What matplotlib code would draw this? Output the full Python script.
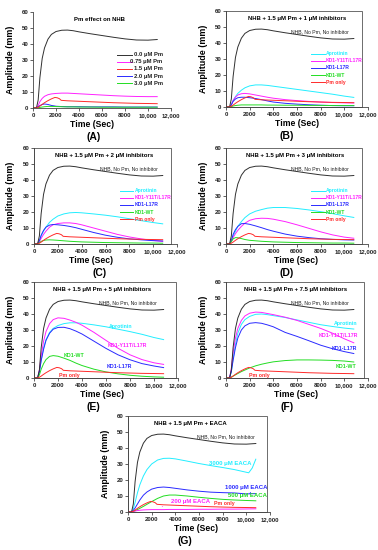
import matplotlib
matplotlib.use("Agg")
import matplotlib.pyplot as plt
from matplotlib.patches import Rectangle
from matplotlib.ticker import FuncFormatter, MultipleLocator

plt.rcParams["font.family"] = ["Liberation Sans", "DejaVu Sans"]

# ---- data (time in s, amplitude in mm) ----
T = [0, 300, 450, 600, 800, 1000, 1300, 1600, 2000, 2500, 3000, 3500, 4000,
     5000, 6000, 7000, 8000, 9000, 10000, 10800]
T_PM = [0, 300, 450, 600, 800, 1000, 1300, 1600, 1900, 2100, 2300, 2450, 3000,
        4000, 5000, 6000, 7000, 8000, 9000, 10000, 10800]
T_EACA = [0, 300, 450, 600, 800, 1000, 1300, 1600, 2000, 2500, 3000, 3500, 4000,
          5000, 6000, 7000, 8000, 9000, 9600, 10200, 10500, 10800]

nhb = [0, 0, 5, 19, 31, 37.5, 43, 46, 47.8, 48.6, 48.7, 48.3, 47.6,
       46.4, 45.3, 44.2, 43.2, 42.5, 42.4, 42.8]
pm_only = [0, 0, 0.5, 1.2, 2.3, 3.3, 4.6, 5.7, 6.6, 6.4, 5.8, 4.8, 4.5,
           4.2, 3.9, 3.6, 3.3, 3.1, 2.9, 2.8, 2.7]

# (A) Pm dose
pm_075 = [0, 0, 1.5, 4, 6, 7.3, 8.3, 8.8, 9.1, 9.3, 9.3, 9.1, 8.9,
          8.5, 8.1, 7.7, 7.4, 7.2, 7.1, 7.1]
pm_20 = [0, 0, 0.8, 1.5, 2.2, 2.5, 2.2, 1.6, 1.1, 0.9, 0.8, 0.8, 0.8,
         0.7, 0.7, 0.7, 0.6, 0.6, 0.6, 0.6]
pm_30 = [0, 0, 0.2, 0.4, 0.6, 0.8, 1.0, 1.0, 0.9, 0.8, 0.7, 0.7, 0.6,
         0.6, 0.5, 0.5, 0.5, 0.5, 0.5, 0.5]

# (B) 1 uM inhibitors
apro_1 = [0, 0, 1.5, 4, 6.5, 8.5, 10.5, 12, 13.2, 13.8, 13.8, 13.5, 13,
          12, 11, 10, 9, 8, 6.8, 6]
y11_1 = [0, 0, 1.5, 4, 6.2, 7.5, 8.3, 8.5, 8.2, 7.5, 6.8, 6.1, 5.5,
         4.6, 4, 3.5, 3.1, 2.8, 2.6, 2.5]
l17_1 = [0, 0, 1.3, 3.5, 5, 5.8, 6.1, 6.1, 5.8, 5.3, 4.6, 3.8, 3.1,
         2.3, 1.8, 1.4, 1.1, 0.9, 0.8, 0.8]
wt_1 = [0, 0, 0.3, 0.6, 0.9, 1.1, 1.3, 1.3, 1.3, 1.3, 1.3, 1.2, 1.2,
        1.1, 1.1, 1.0, 1.0, 0.9, 0.9, 0.9]

# (C) 2 uM inhibitors
apro_2 = [0, 0, 2, 5, 8, 10.5, 13.5, 15.5, 17.5, 18.8, 19.5, 19.7, 19.5,
          18.8, 18, 17, 15.8, 14.6, 13.4, 12.6]
y11_2 = [0, 0, 1.5, 3.5, 6, 8, 10.5, 12, 12.8, 13.2, 13.2, 12.8, 12,
         10, 8, 6, 4.4, 3.2, 2.2, 1.6]
l17_2 = [0, 0, 2, 5.5, 8.5, 10.5, 11.8, 12.2, 12, 11.6, 11, 10.2, 9.2,
         7.2, 5.5, 4.2, 3.2, 2.6, 2.1, 1.9]
wt_2 = [0, 0, 0.8, 1.6, 2.2, 2.5, 2.6, 2.5, 2.3, 2, 1.7, 1.5, 1.3,
        1.1, 0.9, 0.8, 0.7, 0.6, 0.6, 0.5]

# (D) 3 uM inhibitors
apro_3 = [0, 0, 2, 5, 8, 11, 14, 16.5, 18.8, 20.5, 21.5, 22.4, 22.8,
          22.8, 22.2, 21.3, 20.2, 19, 17.6, 16.6]
y11_3 = [0, 0, 1.5, 4, 6.5, 8.5, 11, 13, 14.8, 15.8, 16.1, 16, 15.5,
         14, 12, 9.8, 7.6, 5.7, 4.3, 3.6]
l17_3 = [0, 0, 2, 6, 9, 11, 12.7, 12.8, 12.3, 11.3, 10.2, 9, 8,
         6.2, 4.9, 4, 3.3, 2.9, 2.6, 2.5]
wt_3 = [0, 0, 1.5, 3.2, 4, 3.9, 3.4, 2.8, 2.3, 2, 1.7, 1.5, 1.3,
        1.1, 0.9, 0.8, 0.7, 0.6, 0.6, 0.5]

# (E) 5 uM inhibitors
apro_5 = [0, 0, 4, 11, 19, 24, 28.5, 31, 32.8, 34, 34.5, 34.5, 34.2,
          33.2, 32, 30.5, 29, 27.3, 25.3, 24]
y11_5 = [0, 0, 5, 14, 23, 29, 34, 36.5, 37.6, 37.3, 36.2, 34.8, 33,
         28.5, 23.5, 18.6, 14.5, 11.5, 9.5, 8.5]
l17_5 = [0, 0, 4, 11, 18, 23.5, 28, 30.5, 31.6, 31.7, 30.8, 29.3, 27.5,
         23, 18.5, 14.5, 11.4, 9, 7.5, 6.5]
wt_5 = [0, 0, 2, 5.5, 9, 11.5, 13.5, 14, 13.6, 12.4, 11, 9.3, 7.8,
        5.5, 3.8, 2.6, 1.7, 1.1, 0.7, 0.5]

# (F) 7.5 uM inhibitors
apro_7 = [0, 0, 4, 12, 21, 28, 33.5, 36.5, 38.5, 39.8, 40, 39.6, 39,
          37.8, 36.3, 34.8, 33.3, 32.2, 31.2, 30.6]
y11_7 = [0, 0, 6, 16, 25, 31, 36, 38.8, 40.5, 41.2, 41, 40.3, 39.6,
         38, 36, 33.5, 31, 28, 24.5, 22]
l17_7 = [0, 0, 4, 11, 19, 25, 30, 32.6, 34.2, 34.6, 34.2, 33.2, 32,
         28.5, 26, 23.3, 20.5, 18.3, 16.5, 15.3]
wt_7 = [0, 0, 0.5, 1.2, 2, 2.8, 4, 5, 6.3, 7.6, 8.6, 9.4, 10.1,
        10.9, 11.3, 11.3, 11.2, 11, 10.6, 10]

# (G) EACA
eaca_3000 = [0, 0, 2, 6, 12, 17, 22.5, 26.5, 30, 32.5, 33.5, 33.6, 33.2,
             31.8, 30.3, 29, 27.8, 26.5, 25.5, 24.5, 27.5, 33]
eaca_1000 = [0, 0, 1, 2.5, 5, 7.5, 10.5, 12.5, 14.3, 15.3, 15.6, 15.3, 14.8,
             13.8, 13, 12.4, 12.1, 11.9, 11.3, 11.5]
eaca_500 = [0, 0, 0.3, 0.8, 1.5, 2.3, 3.5, 4.8, 6.5, 8.5, 10, 10.6, 10.6,
            10, 9.2, 8.5, 7.9, 7.5, 7.2, 7]
eaca_200 = [0, 0, 0.3, 0.6, 0.9, 1.1, 1.3, 1.4, 1.5, 1.5, 1.5, 1.6, 1.6,
            1.6, 1.7, 1.7, 1.8, 1.8, 1.9, 2]

INHIB_LABELS = ["Aprotinin", "KD1-Y11T/L17R", "KD1-L17R", "KD1-WT", "Pm only"]
PM_LABELS = ["0.0 \u03bcM Pm", "0.75 \u03bcM Pm", "1.5 \u03bcM Pm",
             "2.0 \u03bcM Pm", "3.0 \u03bcM Pm"]

BLACK = "#303030"
CYAN = "#22eeff"
MAGENTA = "#ff22ff"
BLUE = "#2a2aff"
GREEN = "#22dd22"
RED = "#ff2a2a"
INHIB_COLORS = [CYAN, MAGENTA, BLUE, GREEN, RED]
PM_COLORS = [BLACK, MAGENTA, RED, BLUE, GREEN]


def style_axes(ax, box_right):
    ax.set_xlim(0, 12000)
    ax.set_ylim(0, 60)
    ax.xaxis.set_major_locator(MultipleLocator(2000))
    ax.yaxis.set_major_locator(MultipleLocator(10))
    ax.xaxis.set_major_formatter(
        FuncFormatter(lambda v, p: f"{int(v):,}" if v >= 10000 else f"{int(v)}"))
    for s in ("top", "right"):
        ax.spines[s].set_visible(False)
    for s in ("left", "bottom"):
        ax.spines[s].set_linewidth(0.6)
        ax.spines[s].set_color("#444444")
    ax.tick_params(direction="out", length=2, width=0.5, pad=1.5,
                   labelsize=4.3, colors="#222222")
    for lab in ax.get_xticklabels() + ax.get_yticklabels():
        lab.set_fontweight("bold")
    ax.set_ylabel("Amplitude (mm)", fontsize=6.4, fontweight="bold")
    ax.yaxis.set_label_coords(-0.13, 0.5)
    ax.set_xlabel("Time (Sec)", fontsize=6.2, fontweight="bold", labelpad=1.5)
    if box_right:
        ax.add_patch(Rectangle((0, 0), box_right, 1, transform=ax.transAxes,
                               fill=False, ec="#555555", lw=0.6, clip_on=False))


def draw_common(ax, title, tx, label, lx, box_right):
    ax.plot(T, nhb, color=BLACK, lw=0.7)
    ax.plot(T_PM, pm_only, color=RED, lw=0.7)
    ax.text(tx, 0.925, title, transform=ax.transAxes, ha="center", va="center",
            fontsize=4.3, fontweight="bold")
    ax.text(lx, -0.3, label, transform=ax.transAxes, ha="center", va="center",
            fontsize=7.5, fontweight="bold")
    style_axes(ax, box_right)


def nhb_label(ax, x):
    ax.text(x, 47.3, "NHB, No Pm, No inhibitor", fontsize=3.7, color="#222222",
            va="center", ha="left")


def legend(ax, labels, colors, colored_text, x0, x1, xt, ha, fs):
    ys = [0.553, 0.481, 0.407, 0.332, 0.257]
    for y, lab, c in zip(ys, labels, colors):
        ax.plot([x0, x1], [y, y], color=c, lw=0.7, transform=ax.transAxes)
        ax.text(xt, y, lab, transform=ax.transAxes, ha=ha, va="center",
                fontsize=fs, fontweight="bold",
                color=c if colored_text else "#222222")


fig = plt.figure(figsize=(3.78, 5.5), dpi=100)
H = 96 / 550
pos = {
    "A": (33 / 378, 1 - 108 / 550, 138 / 378, H),
    "B": (226 / 378, 1 - 107 / 550, 142 / 378, H),
    "C": (34 / 378, 1 - 244 / 550, 143 / 378, H),
    "D": (226 / 378, 1 - 244 / 550, 142 / 378, H),
    "E": (34 / 378, 1 - 378 / 550, 144 / 378, H),
    "F": (226 / 378, 1 - 378 / 550, 142 / 378, H),
    "G": (128 / 378, 1 - 512 / 550, 142 / 378, H),
}

# (A)
ax = fig.add_axes(pos["A"])
for ys, c in zip([pm_075, pm_20, pm_30], [MAGENTA, BLUE, GREEN]):
    ax.plot(T, ys, color=c, lw=0.7)
draw_common(ax, "Pm effect on NHB", 0.48, "(A)", 0.44, None)
ax.xaxis.label.set_x(0.43)
legend(ax, PM_LABELS, PM_COLORS, False, 0.606, 0.715, 0.94, "right", 4.2)

# (B)-(D)
panels = [
    ("B", "NHB + 1.5 \u03bcM Pm + 1 \u03bcM inhibitors", [apro_1, y11_1, l17_1, wt_1], 0.50, 0.43, 0.50),
    ("C", "NHB + 1.5 \u03bcM Pm + 2 \u03bcM inhibitors", [apro_2, y11_2, l17_2, wt_2], 0.49, 0.46, 0.40),
    ("D", "NHB + 1.5 \u03bcM Pm + 3 \u03bcM inhibitors", [apro_3, y11_3, l17_3, wt_3], 0.49, 0.43, 0.49),
]
for key, title, series, tx, lx, xl in panels:
    ax = fig.add_axes(pos[key])
    for ys, c in zip(series, INHIB_COLORS):
        ax.plot(T, ys, color=c, lw=0.7)
    draw_common(ax, title, tx, f"({key})", lx, 0.96)
    ax.xaxis.label.set_x(xl)
    nhb_label(ax, 5500)
    legend(ax, INHIB_LABELS, INHIB_COLORS, True, 0.60, 0.694, 0.705, "left", 3.6)

# (E)
ax = fig.add_axes(pos["E"])
for ys, c in zip([apro_5, y11_5, l17_5, wt_5], INHIB_COLORS):
    ax.plot(T, ys, color=c, lw=0.7)
draw_common(ax, "NHB + 1.5 \u03bcM Pm + 5 \u03bcM inhibitors", 0.47, "(E)", 0.41, 0.985)
ax.xaxis.label.set_x(0.47)
nhb_label(ax, 5400)
for x, y, lab, c in [(6200, 32, "Aprotinin", CYAN), (6170, 20.2, "KD1-Y11T/L17R", MAGENTA),
                     (6080, 7.3, "KD1-L17R", BLUE), (2500, 14, "KD1-WT", GREEN),
                     (2080, 1.5, "Pm only", RED)]:
    ax.text(x, y, lab, color=c, fontsize=3.8, fontweight="bold", va="center")

# (F)
ax = fig.add_axes(pos["F"])
for ys, c in zip([apro_7, y11_7, l17_7, wt_7], INHIB_COLORS):
    ax.plot(T, ys, color=c, lw=0.7)
draw_common(ax, "NHB + 1.5 \u03bcM Pm + 7.5 \u03bcM inhibitors", 0.49, "(F)", 0.43, 0.975)
ax.xaxis.label.set_x(0.49)
nhb_label(ax, 5500)
for x, y, lab, c in [(11100, 34, "Aprotinin", CYAN), (11150, 26.5, "KD1-Y11T/L17R", MAGENTA),
                     (11050, 18.3, "KD1-L17R", BLUE), (11050, 7.3, "KD1-WT", GREEN)]:
    ax.text(x, y, lab, color=c, fontsize=3.8, fontweight="bold", va="center", ha="right")
ax.text(1980, 1.5, "Pm only", color=RED, fontsize=3.8, fontweight="bold", va="center")

# (G)
ax = fig.add_axes(pos["G"])
ax.plot(T_EACA, eaca_3000, color=CYAN, lw=0.7)
for ys, c in zip([eaca_1000, eaca_500, eaca_200], [BLUE, GREEN, MAGENTA]):
    ax.plot(T, ys, color=c, lw=0.7)
draw_common(ax, "NHB + 1.5 \u03bcM Pm + EACA", 0.44, "(G)", 0.40, 0.98)
ax.xaxis.label.set_x(0.48)
nhb_label(ax, 5790)
for x, y, lab, c in [(6860, 30, "3000 \u03bcM EACA", CYAN), (8200, 15, "1000 \u03bcM EACA", BLUE),
                     (8420, 10, "500 \u03bcM EACA", GREEN), (3670, 6.6, "200 \u03bcM EACA", MAGENTA)]:
    ax.text(x, y, lab, color=c, fontsize=4.3, fontweight="bold", va="center")
ax.text(7290, 5, "Pm only", color=RED, fontsize=3.8, fontweight="bold", va="center")
ax.annotate("", xy=(2850, 1.7), xytext=(2950, 5.2),
            arrowprops=dict(arrowstyle="-", color=MAGENTA, lw=0.6))
ax.annotate("", xy=(10300, 11.6), xytext=(10500, 13.6),
            arrowprops=dict(arrowstyle="-", color=BLUE, lw=0.6))

fig.savefig("out.png", dpi=100)
